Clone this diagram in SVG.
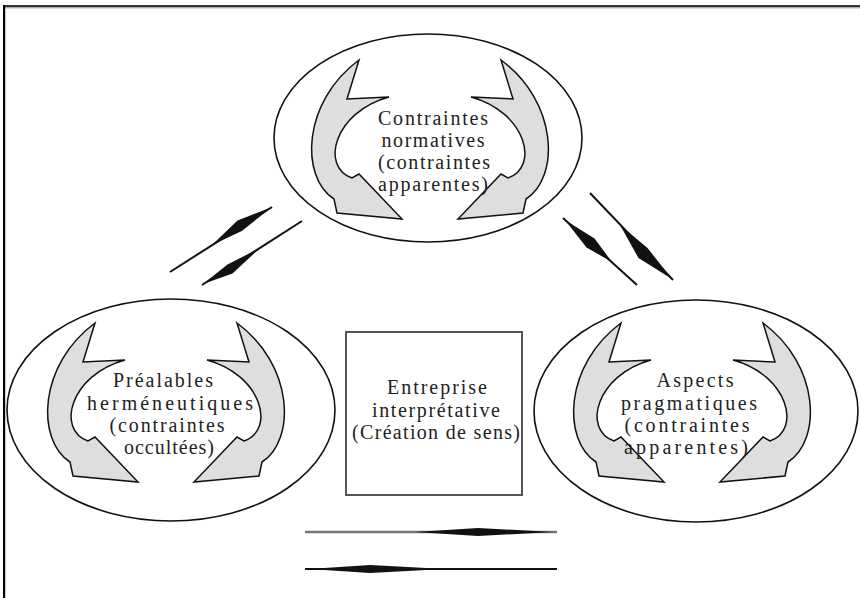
<svg xmlns="http://www.w3.org/2000/svg" width="860" height="598" viewBox="0 0 860 598">
<style>
.ell{fill:none;stroke:#111;stroke-width:1.6}
.arr{fill:#dedede;stroke:#111;stroke-width:1.5;stroke-linejoin:miter}
.lbl{font-family:"Liberation Serif","Times New Roman",serif;font-size:20px;fill:#222;text-anchor:middle}
.ln{stroke:#111;stroke-width:2;fill:none}
.sp{fill:#111;stroke:none}
</style>
<defs>
<path id="carr" class="arr" d="M -71,-87 L -83,-48 L -41,-50 C -96,-35 -110,20 -78,31 L -71,27 L -28,72 L -93,66 L -96,52 C -130,30 -128,-45 -71,-87 Z"/>
</defs>
<rect x="0" y="0" width="860" height="598" fill="#fff"/>
<g id="frame">
<rect x="3" y="5" width="857" height="2.5" fill="#333"/>
<rect x="3" y="7.5" width="857" height="1" fill="#bbb"/>
<rect x="3" y="5" width="2.2" height="593" fill="#000"/>
</g>
<g id="node-normatives">
<ellipse class="ell" cx="428" cy="138" rx="154" ry="104"/>
<use href="#carr" transform="translate(430,147)"/>
<use href="#carr" transform="translate(430,147) scale(-1,1)"/>
<text class="lbl" x="433" y="125" textLength="110" lengthAdjust="spacing">Contraintes</text>
<text class="lbl" x="433" y="147" textLength="103" lengthAdjust="spacing">normatives</text>
<text class="lbl" x="434" y="169" textLength="112" lengthAdjust="spacing">(contraintes</text>
<text class="lbl" x="433" y="191" textLength="110" lengthAdjust="spacing">apparentes)</text>
</g>
<g id="node-prealables">
<ellipse class="ell" cx="171" cy="410" rx="164" ry="111"/>
<use href="#carr" transform="translate(166,410)"/>
<use href="#carr" transform="translate(166,410) scale(-1,1)"/>
<text class="lbl" x="163" y="387" textLength="100" lengthAdjust="spacing">Préalables</text>
<text class="lbl" x="170" y="410" textLength="166" lengthAdjust="spacing">herméneutiques</text>
<text class="lbl" x="167" y="432" textLength="115" lengthAdjust="spacing">(contraintes</text>
<text class="lbl" x="169" y="454" textLength="90" lengthAdjust="spacing">occultées)</text>
</g>
<g id="node-pragmatiques">
<ellipse class="ell" cx="696" cy="411" rx="162" ry="111"/>
<use href="#carr" transform="translate(692,410)"/>
<use href="#carr" transform="translate(692,410) scale(-1,1)"/>
<text class="lbl" x="695" y="387" textLength="77" lengthAdjust="spacing">Aspects</text>
<text class="lbl" x="689" y="410" textLength="136" lengthAdjust="spacing">pragmatiques</text>
<text class="lbl" x="687" y="432" textLength="125" lengthAdjust="spacing">(contraintes</text>
<text class="lbl" x="686" y="454" textLength="124" lengthAdjust="spacing">apparentes)</text>
</g>
<g id="node-entreprise">
<rect x="346" y="332" width="176" height="163" fill="none" stroke="#555" stroke-width="2"/>
<text class="lbl" x="437" y="394" textLength="100" lengthAdjust="spacing">Entreprise</text>
<text class="lbl" x="436" y="417" textLength="128" lengthAdjust="spacing">interprétative</text>
<text class="lbl" x="436" y="439" textLength="168" lengthAdjust="spacing">(Création de sens)</text>
</g>
<g id="connectors">
<line class="ln" x1="170" y1="272" x2="272" y2="207"/>
<polygon class="sp" points="212,245 241.8,231 272,207 237.5,220.5"/>
<line class="ln" x1="202" y1="285" x2="302" y2="221"/>
<polygon class="sp" points="203,284 232.5,273.5 260,248 227.5,264.5"/>
<line class="ln" x1="563" y1="218" x2="637" y2="285"/>
<polygon class="sp" points="565,220 586.5,247.5 612,262 594.5,238.5"/>
<line class="ln" x1="590" y1="193" x2="673" y2="280"/>
<polygon class="sp" points="620,225 638.5,258 672,279 647.5,248"/>
<line x1="305" y1="532" x2="557" y2="532" stroke="#777" stroke-width="2.5"/>
<polygon class="sp" points="415,532 478,528 553,532 478,536"/>
<line class="ln" x1="305" y1="569" x2="557" y2="569"/>
<polygon class="sp" points="309,569 370,565 445,569 370,573"/>
</g>
</svg>
